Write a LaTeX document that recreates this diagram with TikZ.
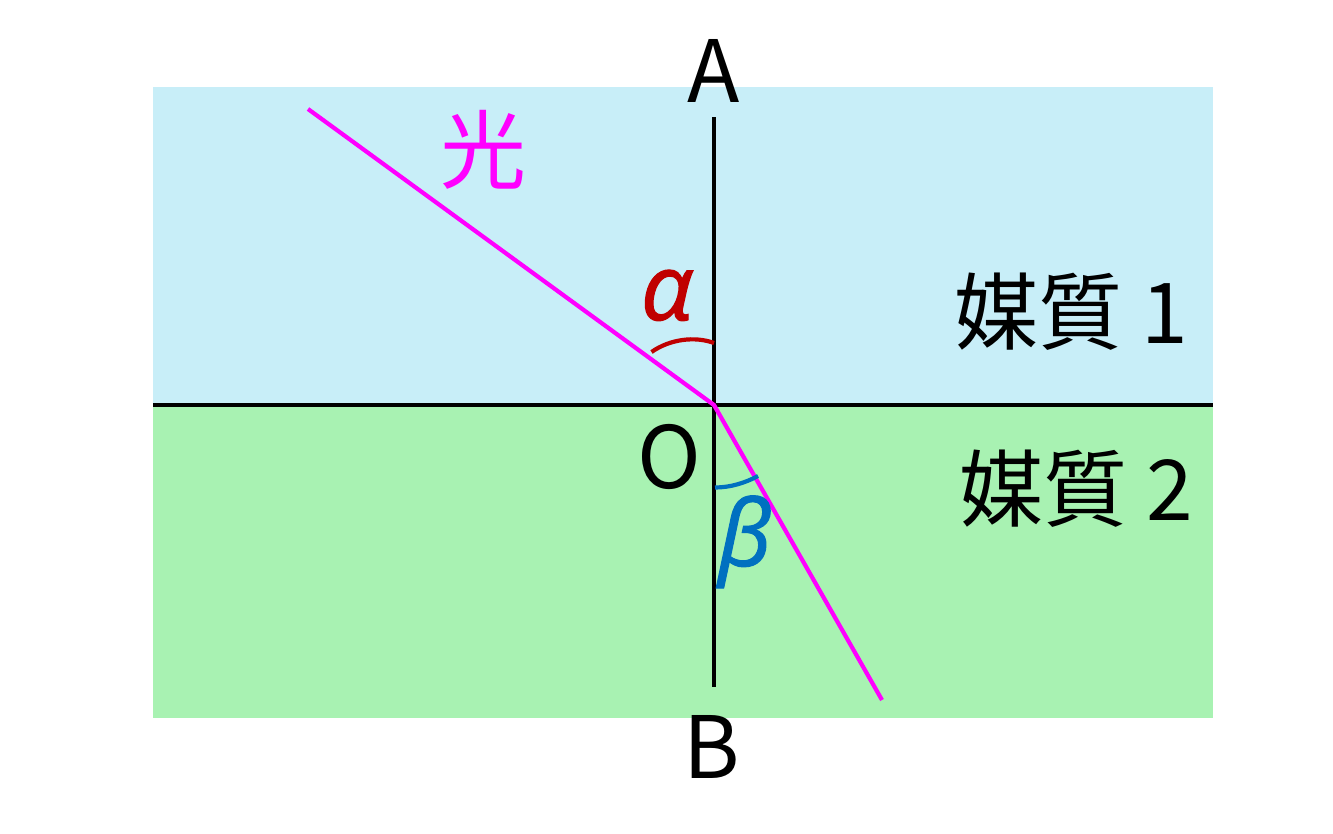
\documentclass[tikz,border=0pt]{standalone}
\usepackage{fontspec}
\setmainfont{Noto Sans CJK JP}
\newfontfamily\greekit{Open Sans}[ItalicFont={* Italic},ItalicFeatures={FakeBold=1.2}]
\definecolor{medone}{RGB}{200,238,248}
\definecolor{medtwo}{RGB}{168,242,178}
\definecolor{raycol}{RGB}{255,0,255}
\definecolor{alphacol}{RGB}{192,0,0}
\definecolor{betacol}{RGB}{0,112,192}
\begin{document}
\begin{tikzpicture}[x=1pt,y=-1pt,
  lbl/.style={inner sep=0pt,anchor=base,font=\fontsize{86}{100}\selectfont},
  medlbl/.style={inner sep=0pt,anchor=base,font=\fontsize{84}{100}\selectfont},
  greeklbl/.style={inner sep=0pt,anchor=base,font=\fontsize{92}{100}\selectfont\greekit\itshape},
  axisline/.style={line width=4.2pt,black},
  rayline/.style={line width=4.2pt,raycol},
  anglearc/.style={line width=4.2pt}]
\useasboundingbox (0,0) rectangle (1333,833);
\fill[medone] (153,87) rectangle (1213,405);
\fill[medtwo] (153,405) rectangle (1213,718);
\coordinate (L) at (153,405);
\coordinate (R) at (1213,405);
\coordinate (O) at (714,405);
\coordinate (Atop) at (714,117);
\coordinate (Bbot) at (714,687);
\coordinate (S) at (308,109);
\coordinate (E) at (882,700);
\draw[axisline] (L) -- (R);
\draw[axisline] (Atop) -- (Bbot);
\draw[rayline] (S) -- (O) -- (E);
\coordinate (a1) at (651.5,352);
\coordinate (a2) at (714,343);
\draw[anglearc,alphacol] (a1) .. controls (670,339) and (695,336) .. (a2);
\coordinate (b1) at (715,487.5);
\coordinate (b2) at (758,476);
\draw[anglearc,betacol] (b1) .. controls (730,487.5) and (745,483) .. (b2);
\node[lbl] (A) at (714,102) {A};
\node[lbl] (B) at (712,778) {B};
\node[lbl] (Olbl) at (669,488) {O};
\node[lbl,raycol] (light) at (483,182) {光};
\node[medlbl] (m1) at (1071,343) {媒質 1};
\node[medlbl] (m2) at (1076,520) {媒質 2};
\node[greeklbl,alphacol] (alpha) at (667,320) {α};
\node[greeklbl,betacol] (beta) at (745,566) {β};
\end{tikzpicture}
\end{document}
